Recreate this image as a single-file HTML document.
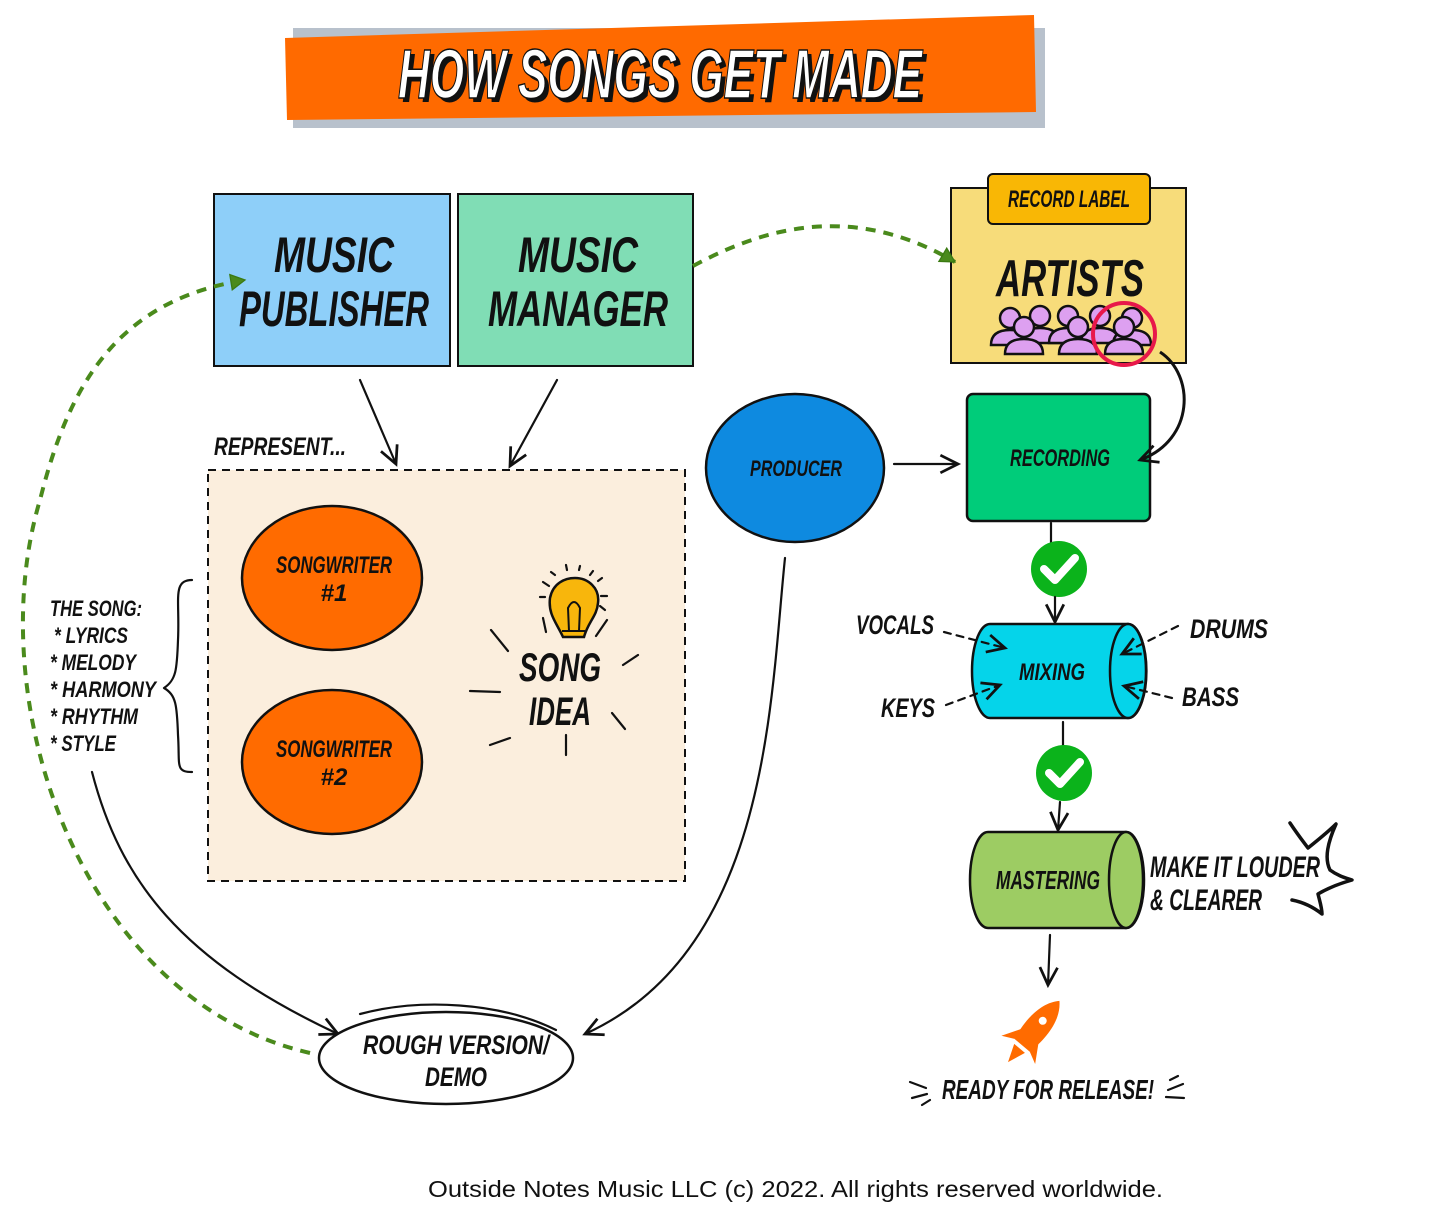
<!DOCTYPE html>
<html><head><meta charset="utf-8"><style>
html,body{margin:0;padding:0;background:#fff}
svg{display:block}
.t{font-family:"Liberation Sans",sans-serif;font-weight:bold;font-style:italic;fill:#111}
.ln{fill:none;stroke:#111;stroke-width:2.2;stroke-linecap:round;stroke-linejoin:round}
</style></head><body>
<svg width="1430" height="1211" viewBox="0 0 1430 1211" xmlns="http://www.w3.org/2000/svg">
<defs>
<marker id="arB" viewBox="0 0 20 20" refX="17" refY="10" markerWidth="22" markerHeight="22" markerUnits="userSpaceOnUse" orient="auto"><path d="M1 2 L17 10 L1 18" fill="none" stroke="#111" stroke-width="2.5"/></marker>
<marker id="ag" viewBox="0 0 14 14" refX="12" refY="7" markerWidth="18" markerHeight="18" markerUnits="userSpaceOnUse" orient="auto"><path d="M1 1 L12 7 L1 13 Z" fill="#4a8a1c" stroke="#3b7a12" stroke-width="1"/></marker>
<g id="person"><circle cx="0" cy="-13" r="10" fill="#dda0f0" stroke="#111" stroke-width="2.5"/><path d="M-19 14 Q-19 -1 0 -1 Q19 -1 19 14 Z" fill="#dda0f0" stroke="#111" stroke-width="2.5"/></g>
</defs>

<!-- Title -->
<rect x="293" y="28" width="752" height="100" fill="#b8c1cc"/>
<polygon points="285,38 1034,15 1036,112 287,120" fill="#ff6a00"/>
<text class="t" x="664" y="102" text-anchor="middle" font-size="70" textLength="524" lengthAdjust="spacingAndGlyphs" style="fill:#111">HOW SONGS GET MADE</text>
<text class="t" x="660" y="98" text-anchor="middle" font-size="70" textLength="524" lengthAdjust="spacingAndGlyphs" style="fill:#fff;stroke:#111;stroke-width:1.5">HOW SONGS GET MADE</text>

<!-- Publisher/Manager -->
<rect x="214" y="194" width="236" height="172" fill="#8ecff9" stroke="#111" stroke-width="2"/>
<text class="t" x="334" y="272" text-anchor="middle" font-size="50" textLength="120" lengthAdjust="spacingAndGlyphs">MUSIC</text>
<text class="t" x="334" y="326" text-anchor="middle" font-size="50" textLength="190" lengthAdjust="spacingAndGlyphs">PUBLISHER</text>
<rect x="458" y="194" width="235" height="172" fill="#80ddb5" stroke="#111" stroke-width="2"/>
<text class="t" x="578" y="272" text-anchor="middle" font-size="50" textLength="120" lengthAdjust="spacingAndGlyphs">MUSIC</text>
<text class="t" x="578" y="326" text-anchor="middle" font-size="50" textLength="180" lengthAdjust="spacingAndGlyphs">MANAGER</text>

<!-- Record label -->
<rect x="951" y="188" width="235" height="175" fill="#f7dc7a" stroke="#111" stroke-width="2"/>
<rect x="988" y="174" width="162" height="50" rx="5" fill="#f9b705" stroke="#111" stroke-width="2"/>
<text class="t" x="1069" y="207" text-anchor="middle" font-size="24" textLength="122" lengthAdjust="spacingAndGlyphs">RECORD LABEL</text>
<text class="t" x="1070" y="296" text-anchor="middle" font-size="52" textLength="148" lengthAdjust="spacingAndGlyphs">ARTISTS</text>
<use href="#person" x="1010" y="331"/><use href="#person" x="1040" y="329"/><use href="#person" x="1068" y="329"/><use href="#person" x="1100" y="329"/><use href="#person" x="1132" y="331"/>
<use href="#person" x="1024" y="340"/><use href="#person" x="1078" y="340"/><use href="#person" x="1124" y="340"/>
<circle cx="1124" cy="334" r="31" fill="none" stroke="#e8184a" stroke-width="4"/>

<!-- green dashed arrows -->
<path d="M693 266 C760 230 850 200 955 262" fill="none" stroke="#4a8a1c" stroke-width="4" stroke-dasharray="10 8" marker-end="url(#ag)"/>
<path d="M310 1053 C80 1000 -20 700 40 500 C70 380 120 300 245 280" fill="none" stroke="#4a8a1c" stroke-width="4" stroke-dasharray="10 8" marker-end="url(#ag)"/>

<!-- Represent box -->
<text class="t" x="214" y="455" font-size="25" textLength="132" lengthAdjust="spacingAndGlyphs">REPRESENT...</text>
<path d="M360 380 L396 464" class="ln" marker-end="url(#arB)"/>
<path d="M557 380 L510 466" class="ln" marker-end="url(#arB)"/>
<rect x="208" y="470" width="477" height="411" fill="#fbeedd" stroke="#111" stroke-width="2" stroke-dasharray="8 6"/>
<ellipse cx="332" cy="578" rx="90" ry="72" fill="#ff6b00" stroke="#111" stroke-width="2.5"/>
<text class="t" x="334" y="573" text-anchor="middle" font-size="24" textLength="116" lengthAdjust="spacingAndGlyphs">SONGWRITER</text>
<text class="t" x="334" y="601" text-anchor="middle" font-size="24">#1</text>
<ellipse cx="332" cy="762" rx="90" ry="72" fill="#ff6b00" stroke="#111" stroke-width="2.5"/>
<text class="t" x="334" y="757" text-anchor="middle" font-size="24" textLength="116" lengthAdjust="spacingAndGlyphs">SONGWRITER</text>
<text class="t" x="334" y="785" text-anchor="middle" font-size="24">#2</text>
<!-- bulb -->
<path d="M563 637 C556 622 548 614 550 598 C553 583 565 578 575 578 C588 578 600 588 598 603 C597 616 588 622 584 637 Z" fill="#f8b60c" stroke="#111" stroke-width="2.5"/>
<path d="M562 631 L585 631 M563 637 L584 637" stroke="#111" stroke-width="2"/>
<path d="M569 631 L568 608 Q574 596 580 608 L579 631" fill="none" stroke="#111" stroke-width="2"/>
<g class="ln" stroke-width="3"><path d="M543 618 L546 632"/><path d="M596 636 L607 620"/><path d="M540 597 L545 597"/><path d="M543 582 L549 586"/><path d="M551 572 L555 575"/><path d="M566 565 L567 570"/><path d="M580 566 L579 570"/><path d="M593 571 L590 575"/><path d="M602 578 L598 581"/><path d="M607 596 L601 596"/><path d="M605 610 L600 606"/>
<path d="M491 630 L508 651"/><path d="M470 691 L500 692"/><path d="M490 745 L510 738"/><path d="M566 735 L566 755"/><path d="M612 713 L625 729"/><path d="M623 665 L638 655"/></g>
<text class="t" x="560" y="681" text-anchor="middle" font-size="40" textLength="82" lengthAdjust="spacingAndGlyphs">SONG</text>
<text class="t" x="560" y="725" text-anchor="middle" font-size="40" textLength="62" lengthAdjust="spacingAndGlyphs">IDEA</text>

<!-- The song list -->
<g class="t" font-size="22">
<text x="50" y="616" textLength="92" lengthAdjust="spacingAndGlyphs">THE SONG:</text>
<text x="54" y="643" textLength="74" lengthAdjust="spacingAndGlyphs">* LYRICS</text>
<text x="50" y="670" textLength="86" lengthAdjust="spacingAndGlyphs">* MELODY</text>
<text x="50" y="697" textLength="106" lengthAdjust="spacingAndGlyphs">* HARMONY</text>
<text x="50" y="724" textLength="88" lengthAdjust="spacingAndGlyphs">* RHYTHM</text>
<text x="50" y="751" textLength="66" lengthAdjust="spacingAndGlyphs">* STYLE</text>
</g>
<path d="M192 580 C172 580 180 600 178 640 C177 670 176 680 164 688 C176 695 177 705 178 735 C180 765 175 772 192 772" class="ln"/>

<!-- curves to demo -->
<path d="M92 772 C120 880 180 960 338 1034" class="ln" marker-end="url(#arB)"/>
<path d="M785 558 C770 700 770 950 585 1034" class="ln" marker-end="url(#arB)"/>
<ellipse cx="446" cy="1058" rx="127" ry="46" fill="#fff" stroke="#111" stroke-width="2.5"/>
<path d="M360 1014 C420 998 500 1002 556 1030" class="ln"/>
<text class="t" x="456" y="1054" text-anchor="middle" font-size="27" textLength="186" lengthAdjust="spacingAndGlyphs">ROUGH VERSION/</text>
<text class="t" x="456" y="1086" text-anchor="middle" font-size="27" textLength="62" lengthAdjust="spacingAndGlyphs">DEMO</text>

<!-- Producer / Recording -->
<ellipse cx="795" cy="468" rx="89" ry="74" fill="#0e8ae0" stroke="#111" stroke-width="2.5"/>
<text class="t" x="796" y="476" text-anchor="middle" font-size="22" textLength="92" lengthAdjust="spacingAndGlyphs">PRODUCER</text>
<path d="M894 464 L958 464" class="ln" marker-end="url(#arB)"/>
<rect x="967" y="394" width="183" height="127" rx="6" fill="#00cc7a" stroke="#111" stroke-width="2.5"/>
<text class="t" x="1060" y="466" text-anchor="middle" font-size="24" textLength="100" lengthAdjust="spacingAndGlyphs">RECORDING</text>
<path d="M1160 352 C1195 375 1195 440 1140 460" fill="none" stroke="#111" stroke-width="3" marker-end="url(#arB)"/>

<!-- check 1 -->
<path d="M1051 523 L1051 545" class="ln"/>
<circle cx="1059" cy="569" r="28" fill="#0bb31b"/>
<path d="M1044 569 L1055 580 L1075 558" fill="none" stroke="#fff" stroke-width="8" stroke-linecap="round" stroke-linejoin="round"/>
<path d="M1055 597 L1055 622" class="ln" marker-end="url(#arB)"/>

<!-- Mixing -->
<path d="M990 624 L1128 624 A18 46 0 0 1 1128 718 L990 718 A18 47 0 0 1 990 624 Z" fill="#05d4ea" stroke="#111" stroke-width="2.5"/>
<ellipse cx="1128" cy="671" rx="18" ry="47" fill="#05d4ea" stroke="#111" stroke-width="2.5"/>
<text class="t" x="1052" y="680" text-anchor="middle" font-size="24" textLength="66" lengthAdjust="spacingAndGlyphs">MIXING</text>
<g class="t" font-size="27">
<text x="856" y="634" textLength="78" lengthAdjust="spacingAndGlyphs">VOCALS</text>
<text x="881" y="717" textLength="54" lengthAdjust="spacingAndGlyphs">KEYS</text>
<text x="1190" y="638" textLength="78" lengthAdjust="spacingAndGlyphs">DRUMS</text>
<text x="1182" y="706" textLength="57" lengthAdjust="spacingAndGlyphs">BASS</text>
</g>
<g stroke-dasharray="7 6">
<path d="M944 632 L1005 648" class="ln" marker-end="url(#arB)"/>
<path d="M946 705 L1000 685" class="ln" marker-end="url(#arB)"/>
<path d="M1178 626 L1122 654" class="ln" marker-end="url(#arB)"/>
<path d="M1172 698 L1124 686" class="ln" marker-end="url(#arB)"/>
</g>

<!-- check 2 -->
<path d="M1063 722 L1063 746" class="ln"/>
<circle cx="1064" cy="773" r="28" fill="#0bb31b"/>
<path d="M1049 773 L1060 784 L1080 762" fill="none" stroke="#fff" stroke-width="8" stroke-linecap="round" stroke-linejoin="round"/>
<path d="M1060 802 L1058 830" class="ln" marker-end="url(#arB)"/>

<!-- Mastering -->
<path d="M988 832 L1126 832 A18 48 0 0 1 1126 928 L988 928 A18 48 0 0 1 988 832 Z" fill="#9dcc63" stroke="#111" stroke-width="2.5"/>
<ellipse cx="1126" cy="880" rx="17" ry="48" fill="#9dcc63" stroke="#111" stroke-width="2.5"/>
<text class="t" x="1048" y="889" text-anchor="middle" font-size="26" textLength="104" lengthAdjust="spacingAndGlyphs">MASTERING</text>
<text class="t" x="1150" y="877" font-size="30" textLength="170" lengthAdjust="spacingAndGlyphs">MAKE IT LOUDER</text>
<text class="t" x="1150" y="910" font-size="30" textLength="112" lengthAdjust="spacingAndGlyphs">&amp; CLEARER</text>
<path d="M1290 823 C1298 835 1302 840 1308 848 C1318 840 1328 832 1336 824 C1328 842 1324 858 1330 870 C1338 876 1346 878 1352 880 C1338 884 1328 888 1318 894 C1320 902 1322 908 1322 914 C1312 906 1302 902 1292 900" fill="none" stroke="#111" stroke-width="3.5" stroke-linecap="round" stroke-linejoin="round"/>
<path d="M1050 935 L1048 985" class="ln" marker-end="url(#arB)"/>

<!-- rocket -->
<g transform="translate(1035,1030) rotate(40)">
<path d="M0 -38 C14 -24 14 0 10 20 L-10 20 C-14 0 -14 -24 0 -38 Z" fill="#ff6b00"/>
<circle cx="0" cy="-12" r="5" fill="#fff" stroke="#ff6b00" stroke-width="2"/>
<path d="M-10 6 L-22 26 L-10 20 Z M10 6 L22 26 L10 20 Z" fill="#ff6b00"/>
<path d="M-7 24 L0 42 L7 24 Z" fill="#ff6b00"/>
</g>
<text class="t" x="1048" y="1099" text-anchor="middle" font-size="28" textLength="212" lengthAdjust="spacingAndGlyphs">READY FOR RELEASE!</text>
<g class="ln" stroke-width="2.5"><path d="M910 1082 L926 1088"/><path d="M912 1098 L927 1094"/><path d="M922 1105 L930 1100"/><path d="M1168 1090 L1183 1084"/><path d="M1166 1097 L1184 1098"/><path d="M1170 1080 L1178 1076"/></g>

<text x="428" y="1197" font-family="Liberation Sans, sans-serif" font-size="23" fill="#111" textLength="735" lengthAdjust="spacingAndGlyphs">Outside Notes Music LLC (c) 2022. All rights reserved worldwide.</text>
</svg>
</body></html>
